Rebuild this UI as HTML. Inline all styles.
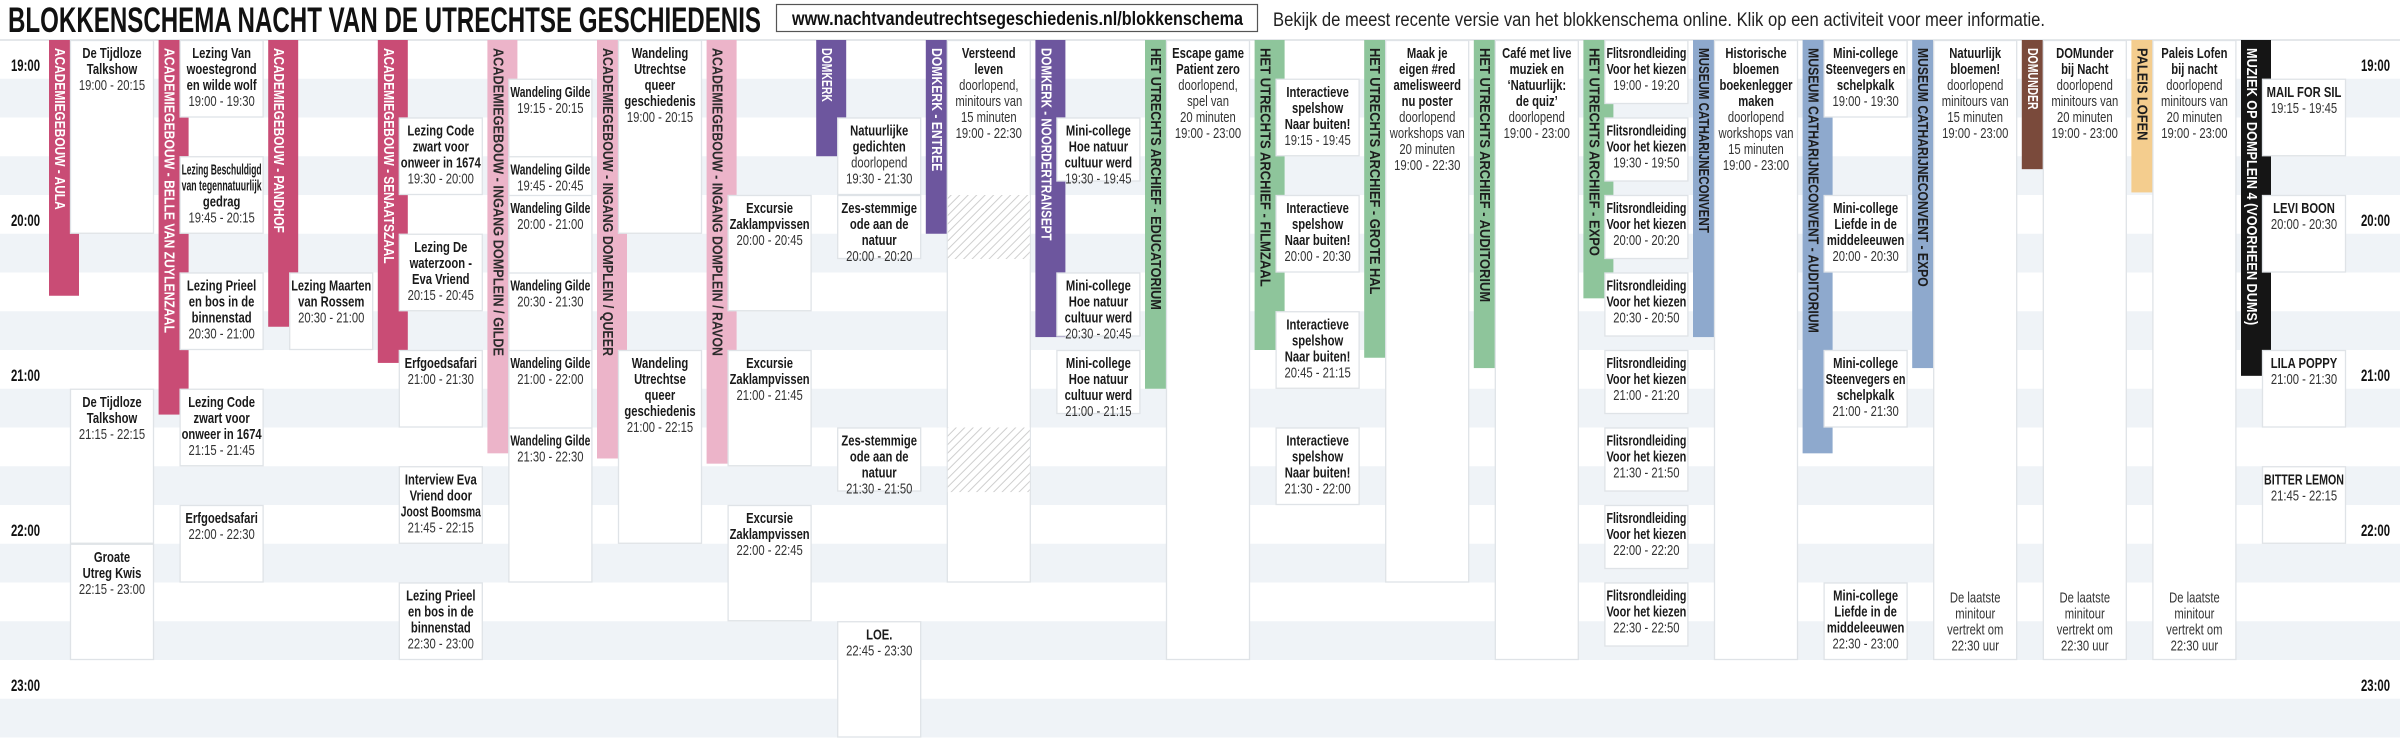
<!DOCTYPE html>
<html><head><meta charset="utf-8"><title>Blokkenschema</title>
<style>
html,body{margin:0;padding:0;background:#fff;}
svg{display:block;}
text{font-family:"Liberation Sans",sans-serif;}
</style></head>
<body>
<svg id="chart" xmlns="http://www.w3.org/2000/svg" width="2400" height="741" viewBox="0 0 2400 741">
<defs>
<pattern id="hatch" patternUnits="userSpaceOnUse" width="6" height="6" patternTransform="rotate(45)">
<rect width="6" height="6" fill="#fff"/><line x1="0" y1="0" x2="0" y2="6" stroke="#cfcfcf" stroke-width="2"/>
</pattern>
</defs>
<g id="bands"></g>
<text x="8" y="32" font-size="35" font-weight="bold" fill="#111" textLength="753" lengthAdjust="spacingAndGlyphs">BLOKKENSCHEMA NACHT VAN DE UTRECHTSE GESCHIEDENIS</text>
<g>
<rect x="776.5" y="4.5" width="481" height="27" fill="#fff" stroke="#555" stroke-width="1.2"/>
<text x="792" y="25" font-size="19" font-weight="bold" fill="#111" textLength="451" lengthAdjust="spacingAndGlyphs">www.nachtvandeutrechtsegeschiedenis.nl/blokkenschema</text>
</g>
<text x="1273" y="26" font-size="19" fill="#222" textLength="772" lengthAdjust="spacingAndGlyphs">Bekijk de meest recente versie van het blokkenschema online. Klik op een activiteit voor meer informatie.</text>
<g id="bars"></g>
<g id="boxes"></g>
<g id="labels"></g>
</svg>
<script>
// ---- data ----
const venueNames = ["ACADEMIEGEBOUW - AULA","ACADEMIEGEBOUW - BELLE VAN ZUYLENZAAL","ACADEMIEGEBOUW - PANDHOF","ACADEMIEGEBOUW - SENAATSZAAL","ACADEMIEGEBOUW - INGANG DOMPLEIN / GILDE","ACADEMIEGEBOUW - INGANG DOMPLEIN / QUEER","ACADEMIEGEBOUW - INGANG DOMPLEIN / RAVON","DOMKERK","DOMKERK - ENTREE","DOMKERK - NOORDERTRANSEPT","HET UTRECHTS ARCHIEF - EDUCATORIUM","HET UTRECHTS ARCHIEF - FILMZAAL","HET UTRECHTS ARCHIEF - GROTE HAL","HET UTRECHTS ARCHIEF - AUDITORIUM","HET UTRECHTS ARCHIEF - EXPO","MUSEUM CATHARIJNECONVENT","MUSEUM CATHARIJNECONVENT - AUDITORIUM","MUSEUM CATHARIJNECONVENT - EXPO","DOMUNDER","PALEIS LOFEN","MUZIEK OP DOMPLEIN 4 (VOORHEEN DUMS)"];
const venueGroup = ["acad","acad","acad","acad","dompl","dompl","dompl","dom","dom","dom","hua","hua","hua","hua","hua","mcc","mcc","mcc","domunder","lofen","muziek"];
const venueBarEnd = ["20:39","21:25","20:51","21:05","21:40","21:42","21:44","19:45","20:15","20:55","21:15","21:00","21:03","21:07","20:40","20:55","21:40","21:07","19:50","19:59","21:10"];
const timeTicks = ["19:00","20:00","21:00","22:00","23:00"];
const evCol = [0,0,0, 1,1,1,1,1, 2, 3,3,3,3,3, 4,4,4,4,4,4, 5,5, 6,6,6, 7,7,7,7, 8, 9,9,9, 10, 11,11,11,11, 12, 13, 14,14,14,14,14,14,14,14, 15, 16,16,16,16, 17, 18, 19, 20,20,20,20];
const evStart = ["19:00","21:15","22:15", "19:00","19:45","20:30","21:15","22:00", "20:30", "19:30","20:15","21:00","21:45","22:30", "19:15","19:45","20:00","20:30","21:00","21:30", "19:00","21:00", "20:00","21:00","22:00", "19:30","20:00","21:30","22:45", "19:00", "19:30","20:30","21:00", "19:00", "19:15","20:00","20:45","21:30", "19:00", "19:00", "19:00","19:30","20:00","20:30","21:00","21:30","22:00","22:30", "19:00", "19:00","20:00","21:00","22:30", "19:00", "19:00", "19:00", "19:15","20:00","21:00","21:45"];
const evEnd = ["20:15","22:15","23:00", "19:30","20:15","21:00","21:45","22:30", "21:00", "20:00","20:45","21:30","22:15","23:00", "20:15","20:45","21:00","21:30","22:00","22:30", "20:15","22:15", "20:45","21:45","22:45", "21:30","20:20","21:50","23:30", "22:30", "19:45","20:45","21:15", "23:00", "19:45","20:30","21:15","22:00", "22:30", "23:00", "19:20","19:50","20:20","20:50","21:20","21:50","22:20","22:50", "23:00", "19:30","20:30","21:30","23:00", "23:00", "23:00", "23:00", "19:45","20:30","21:30","22:15"];
const evTitle = ["De Tijdloze|Talkshow","De Tijdloze|Talkshow","Groate|Utreg Kwis",
"Lezing Van|woestegrond|en wilde wolf","Lezing Beschuldigd|van tegennatuurlijk|gedrag","Lezing Prieel|en bos in de|binnenstad","Lezing Code|zwart voor|onweer in 1674","Erfgoedsafari",
"Lezing Maarten|van Rossem",
"Lezing Code|zwart voor|onweer in 1674","Lezing De|waterzoon -|Eva Vriend","Erfgoedsafari","Interview Eva|Vriend door|Joost Boomsma","Lezing Prieel|en bos in de|binnenstad",
"Wandeling Gilde","Wandeling Gilde","Wandeling Gilde","Wandeling Gilde","Wandeling Gilde","Wandeling Gilde",
"Wandeling|Utrechtse|queer|geschiedenis","Wandeling|Utrechtse|queer|geschiedenis",
"Excursie|Zaklampvissen","Excursie|Zaklampvissen","Excursie|Zaklampvissen",
"Natuurlijke|gedichten","Zes-stemmige|ode aan de|natuur","Zes-stemmige|ode aan de|natuur","LOE.",
"Versteend|leven",
"Mini-college|Hoe natuur|cultuur werd","Mini-college|Hoe natuur|cultuur werd","Mini-college|Hoe natuur|cultuur werd",
"Escape game|Patient zero",
"Interactieve|spelshow|Naar buiten!","Interactieve|spelshow|Naar buiten!","Interactieve|spelshow|Naar buiten!","Interactieve|spelshow|Naar buiten!",
"Maak je|eigen #red|amelisweerd|nu poster",
"Café met live|muziek en|‘Natuurlijk:|de quiz’",
"Flitsrondleiding|Voor het kiezen","Flitsrondleiding|Voor het kiezen","Flitsrondleiding|Voor het kiezen","Flitsrondleiding|Voor het kiezen","Flitsrondleiding|Voor het kiezen","Flitsrondleiding|Voor het kiezen","Flitsrondleiding|Voor het kiezen","Flitsrondleiding|Voor het kiezen",
"Historische|bloemen|boekenlegger|maken",
"Mini-college|Steenvegers en|schelpkalk","Mini-college|Liefde in de|middeleeuwen","Mini-college|Steenvegers en|schelpkalk","Mini-college|Liefde in de|middeleeuwen",
"Natuurlijk|bloemen!","DOMunder|bij Nacht","Paleis Lofen|bij nacht",
"MAIL FOR SIL","LEVI BOON","LILA POPPY","BITTER LEMON"];
const evSub = ["","","", "","","","","", "", "","","","","", "","","","","","", "","", "","","", "doorlopend","","","", "doorlopend,|minitours van|15 minuten", "","","", "doorlopend,|spel van|20 minuten", "","","","", "doorlopend|workshops van|20 minuten", "doorlopend", "","","","","","","","", "doorlopend|workshops van|15 minuten", "","","","", "doorlopend|minitours van|15 minuten","doorlopend|minitours van|20 minuten","doorlopend|minitours van|20 minuten", "","","",""];
const evShownEnd = {25:"20:00"};
const hatchCol = [8,8];
const hatchStart = ["20:00","21:30"];
const hatchEnd = ["20:20","21:55"];
const noteCol = [17,18,19];
const noteTime = ["22:30","22:30","22:30"];
const noteText = "De laatste|minitour|vertrekt om|22:30 uur";

// ---- scales ----
const NS="http://www.w3.org/2000/svg";
const T0=19*60, Y0=40, PXM=155/60;
function mins(s){const p=s.split(':');return +p[0]*60+ +p[1];}
function yScale(s){return Y0+(mins(s)-T0)*PXM;}
function xBar(i){return 49+i*109.6;}
const BOXW=84;
const colors={acad:["#c94c75","#fff"],dompl:["#ecb4c9","#2a2a2a"],dom:["#6d569e","#fff"],hua:["#8ec59b","#1d1d1d"],mcc:["#8ea9cd","#1d1d1d"],domunder:["#7a4a3b","#fff"],lofen:["#f4cd8e","#1d1d1d"],muziek:["#151515","#fff"]};
function mk(tag,attrs,parent){const e=document.createElementNS(NS,tag);for(const k in attrs)e.setAttribute(k,attrs[k]);parent.appendChild(e);return e;}

const bands=document.getElementById('bands');
for(let k=0;k<20;k++){
  const y=Y0+k*155/4;
  if(y>741)break;
  const r=mk('rect',{x:0,y:y,width:2400,height:155/4,fill:(k%2?'#eff3f7':'#ffffff')},bands);
  
  
}
const tl=mk('line',{x1:0,y1:Y0,x2:2400,y2:Y0,stroke:'#dcdfe3','stroke-width':1.5},bands);



const labels=document.getElementById('labels');
timeTicks.forEach(t=>{
  [11,2361].forEach(x=>{
    const e=mk('text',{x:x,y:yScale(t)+31,'font-size':17,'font-weight':'bold',fill:'#111',textLength:29,lengthAdjust:'spacingAndGlyphs'},labels);
    e.textContent=t;
    
    
  });
});

const bars=document.getElementById('bars');
venueNames.forEach((n,i)=>{
  const c=colors[venueGroup[i]];
  const x=xBar(i), yEnd=yScale(venueBarEnd[i]);
  const g=mk('g',{},bars);
  
  
  mk('rect',{x:x,y:Y0,width:30,height:yEnd-Y0,fill:c[0]},g);
  const t=mk('text',{transform:`translate(${x+10.5},${Y0+8}) rotate(90)`,'font-size':15,'font-weight':'bold',fill:c[1],'dominant-baseline':'central',textLength:(n.length*7.7).toFixed(1),lengthAdjust:'spacingAndGlyphs'},g);
  t.textContent=n;
  
  
});

function textBlock(parent,cx,top,title,sub,time){
  const lines=[];
  if(title)title.split('|').forEach(s=>lines.push([s,'bold','#1a1a1a']));
  if(sub)sub.split('|').forEach(s=>lines.push([s,'normal','#333']));
  if(time)lines.push([time,'normal','#333']);
  lines.forEach((l,k)=>{
    const g=mk('g',{transform:`translate(${cx},${top+18+k*16})`},parent);
    const t=mk('text',{x:0,y:0,'font-size':15,'font-weight':l[1],fill:l[2],'text-anchor':'middle'},g);
    t.textContent=l[0];
    
    
    let s=0.75;
    try{const w=t.getComputedTextLength();if(w*s>80)s=80/w;}catch(e){}
    t.setAttribute('transform',`scale(${s.toFixed(3)},1)`);
  });
}

const boxes=document.getElementById('boxes');
evCol.forEach((c,i)=>{
  const x=xBar(c)+21, y=yScale(evStart[i]);
  const endS=evShownEnd[i]||evEnd[i];
  let h=yScale(endS)-y; if(h<64)h=64;
  const g=mk('g',{},boxes);
  
  
  mk('rect',{x:x+0.5,y:y+0.5,width:BOXW-1,height:h-1,fill:'#fff',stroke:'#dfe3e7','stroke-width':1.3},g);
  textBlock(g,x+BOXW/2,y,evTitle[i],evSub[i],evStart[i]+' - '+evEnd[i]);
});
hatchCol.forEach((c,i)=>{
  const x=xBar(c)+21, y=yScale(hatchStart[i]);
  let h=yScale(hatchEnd[i])-y; if(h<64)h=64;
  const r=mk('rect',{x:x+1,y:y,width:BOXW-2,height:h,fill:'url(#hatch)'},boxes);
  
  
});
noteCol.forEach((c,i)=>{
  const g=mk('g',{},boxes);
  
  
  textBlock(g,xBar(c)+21+BOXW/2,yScale(noteTime[i])+2,'',noteText,'');
});
</script>
</body></html>
